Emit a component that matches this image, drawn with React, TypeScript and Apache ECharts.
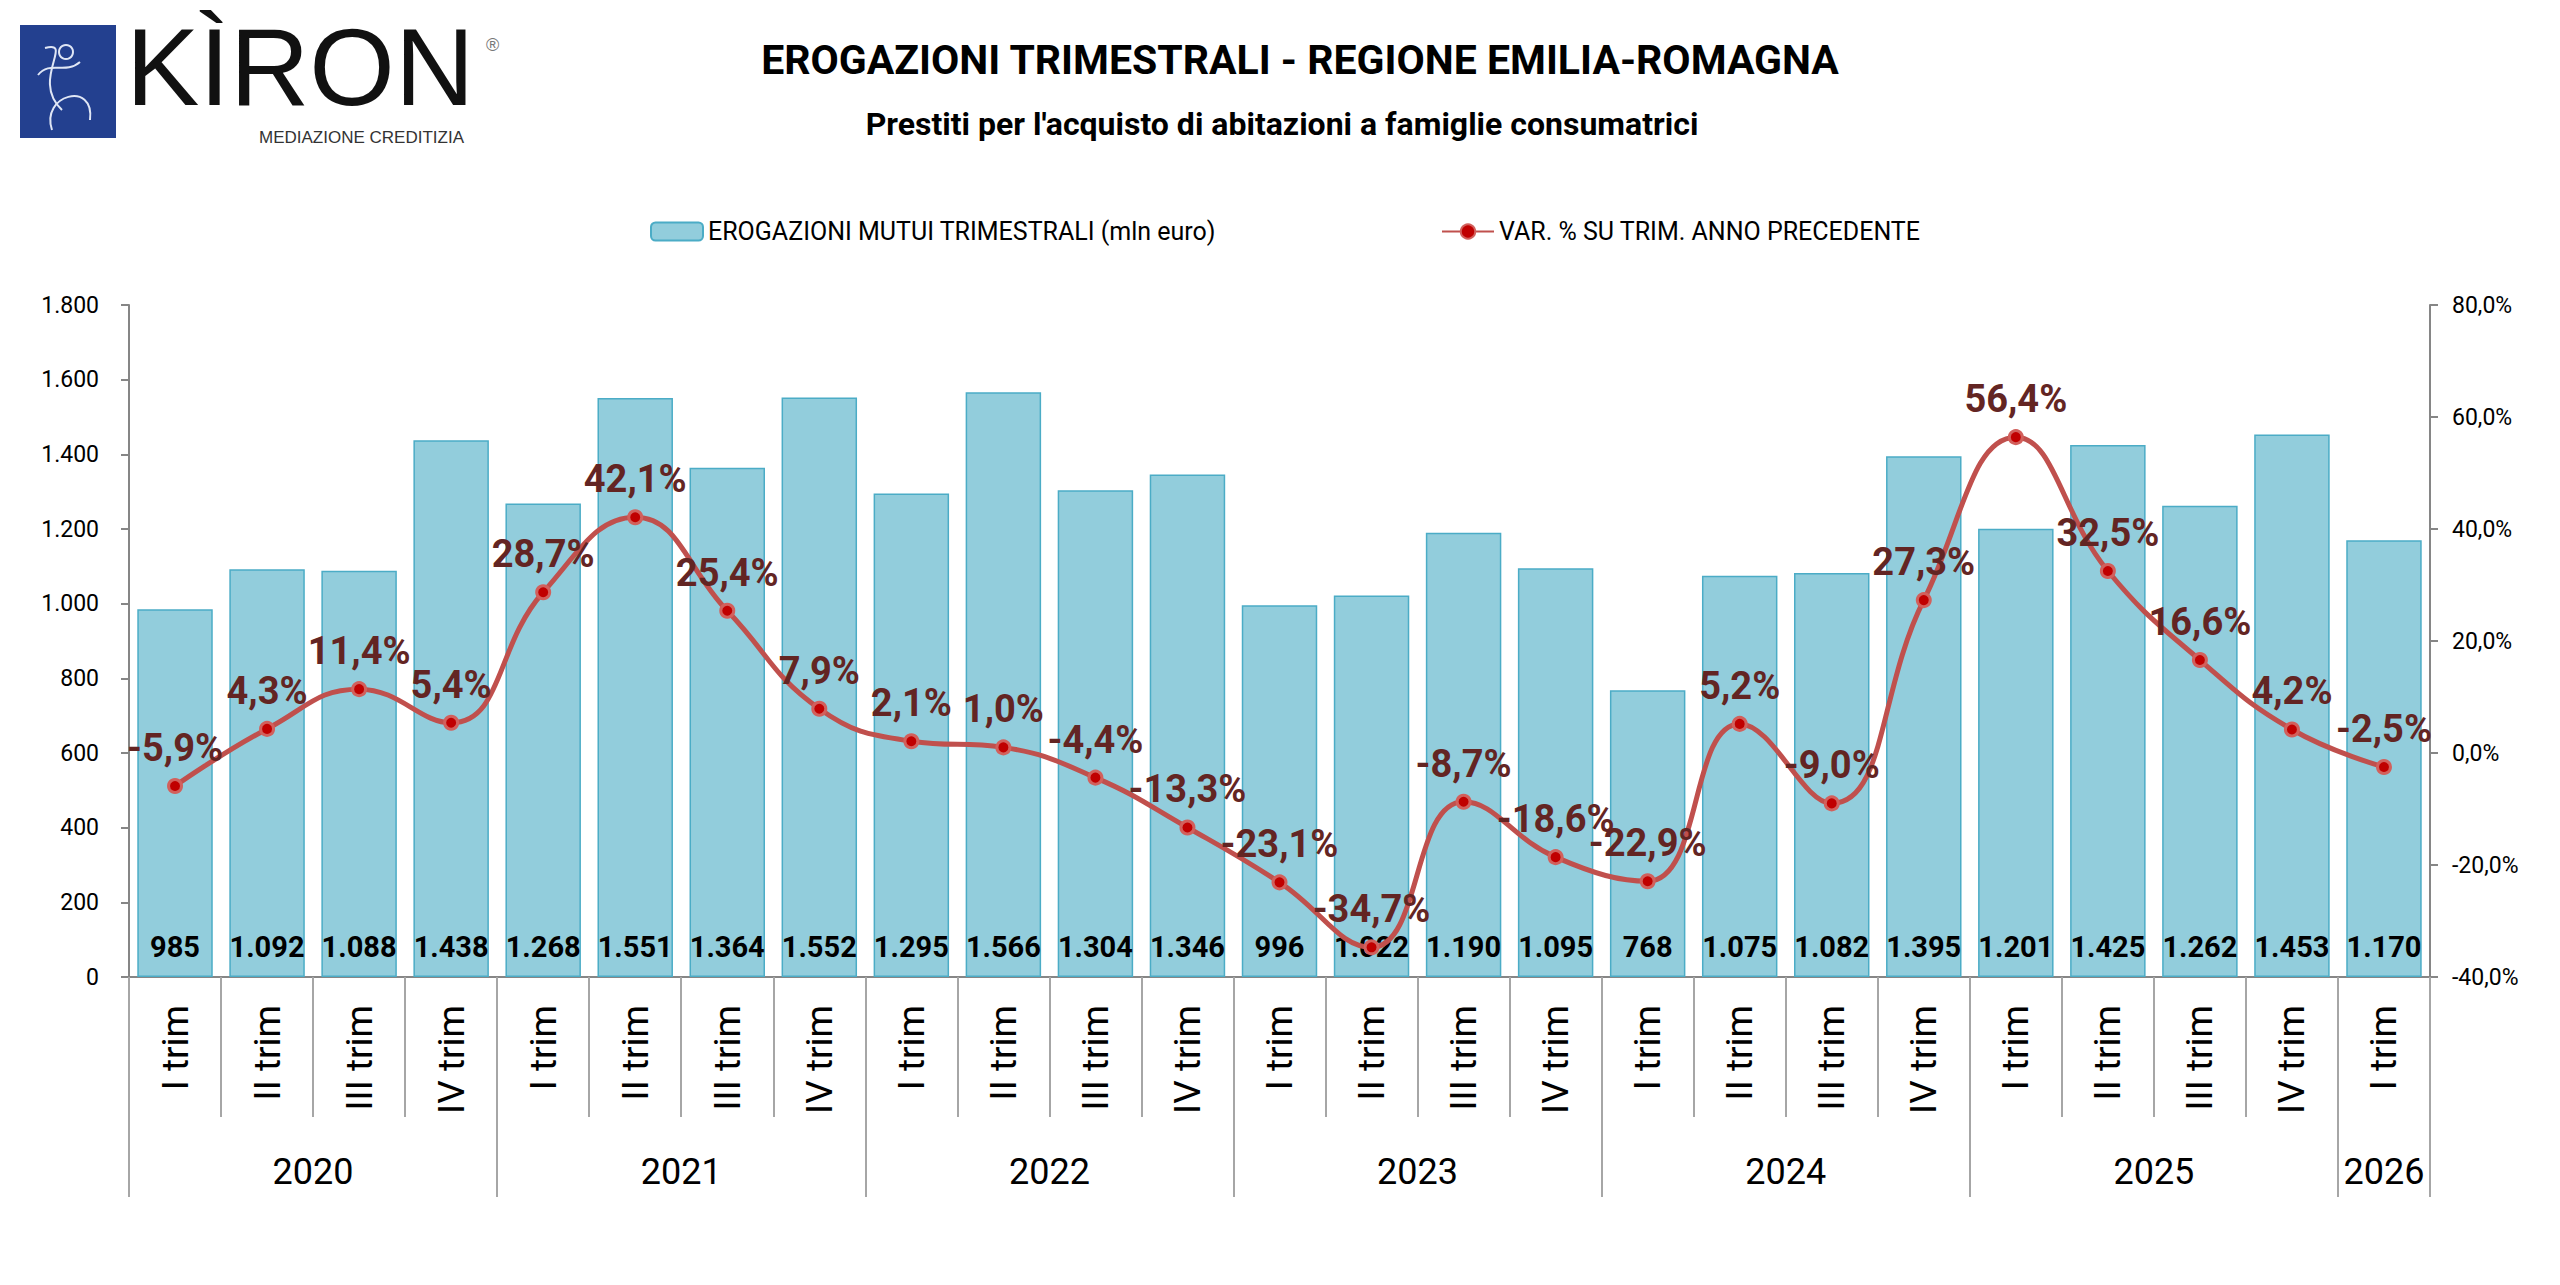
import { useEffect, useRef } from "react";
import * as echarts from "echarts";

const quarterLabels = [
  "I trim", "II trim", "III trim", "IV trim",
  "I trim", "II trim", "III trim", "IV trim",
  "I trim", "II trim", "III trim", "IV trim",
  "I trim", "II trim", "III trim", "IV trim",
  "I trim", "II trim", "III trim", "IV trim",
  "I trim", "II trim", "III trim", "IV trim",
  "I trim",
];
const years = ["2020", "2021", "2022", "2023", "2024", "2025", "2026"];
// category index where each year starts (last one closes the axis)
const yearBounds = [0, 4, 8, 12, 16, 20, 24, 25];

const erogazioni = [
  985, 1092, 1088, 1438, 1268, 1551, 1364, 1552, 1295, 1566, 1304, 1346, 996,
  1022, 1190, 1095, 768, 1075, 1082, 1395, 1201, 1425, 1262, 1453, 1170,
];
const variazioni = [
  -5.9, 4.3, 11.4, 5.4, 28.7, 42.1, 25.4, 7.9, 2.1, 1.0, -4.4, -13.3, -23.1,
  -34.7, -8.7, -18.6, -22.9, 5.2, -9.0, 27.3, 56.4, 32.5, 16.6, 4.2, -2.5,
];

const FONT = "Roboto, 'Noto Sans', sans-serif";
const BAR_NAME = "EROGAZIONI MUTUI TRIMESTRALI (mln euro)";
const LINE_NAME = "VAR. % SU TRIM. ANNO PRECEDENTE";

const thousands = (v: number) => String(Math.round(v)).replace(/\B(?=(\d{3})+(?!\d))/g, ".");
const pct = (v: number) => v.toFixed(1).replace(".", ",") + "%";

const yearCenters = years.map((_, i) => (yearBounds[i] + yearBounds[i + 1]) / 2);

const App = () => {
  const ref = useRef<HTMLDivElement>(null);

  useEffect(() => {
    if (!ref.current) return;
    const chart = echarts.init(ref.current, undefined, { renderer: "svg" });

    const option: echarts.EChartsOption = {
      animation: false,
      backgroundColor: "#ffffff",
      textStyle: { fontFamily: FONT },
      graphic: [
        // logo
        { type: "rect", shape: { x: 20, y: 25, width: 96, height: 113 }, style: { fill: "#23408f" } },
        {
          type: "bezierCurve",
          shape: { x1: 52, y1: 130, x2: 90, y2: 120, cpx1: 40, cpy1: 95, cpx2: 95, cpy2: 80 },
          style: { stroke: "#dfe6f5", lineWidth: 2, fill: "none" },
        },
        {
          type: "bezierCurve",
          shape: { x1: 45, y1: 48, x2: 62, y2: 110, cpx1: 75, cpy1: 40, cpx2: 30, cpy2: 80 },
          style: { stroke: "#dfe6f5", lineWidth: 2, fill: "none" },
        },
        {
          type: "bezierCurve",
          shape: { x1: 38, y1: 75, x2: 80, y2: 62, cpx1: 50, cpy1: 60, cpx2: 65, cpy2: 75 },
          style: { stroke: "#dfe6f5", lineWidth: 2, fill: "none" },
        },
        { type: "circle", shape: { cx: 66, cy: 52, r: 7 }, style: { stroke: "#dfe6f5", lineWidth: 2, fill: "none" } },
        {
          type: "text",
          x: 126,
          y: 66,
          style: {
            text: "KÌRON",
            font: "110px 'Liberation Sans', sans-serif",
            lineHeight: 86,
            fill: "#111111",
            verticalAlign: "middle",
          },
        },
        {
          type: "text",
          x: 464,
          y: 137,
          style: {
            text: "MEDIAZIONE CREDITIZIA",
            font: "17px 'Liberation Sans Narrow', 'Liberation Sans', sans-serif",
            fill: "#333333",
            align: "right",
            verticalAlign: "middle",
          },
        },
        {
          type: "text",
          x: 486,
          y: 36,
          style: { text: "®", font: "18px 'Liberation Sans', sans-serif", fill: "#777777" },
        },
        // titles
        {
          type: "text",
          x: 1300,
          y: 60,
          style: {
            text: "EROGAZIONI TRIMESTRALI - REGIONE EMILIA-ROMAGNA",
            font: `bold 41px ${FONT}`,
            fill: "#000000",
            align: "center",
            verticalAlign: "middle",
          },
        },
        {
          type: "text",
          x: 1282,
          y: 124,
          style: {
            text: "Prestiti per l'acquisto di abitazioni a famiglie consumatrici",
            font: `bold 32px ${FONT}`,
            fill: "#000000",
            align: "center",
            verticalAlign: "middle",
          },
        },
      ],
      legend: [
        {
          data: [BAR_NAME],
          left: 645,
          top: 214,
          itemWidth: 52,
          itemHeight: 18,
          itemGap: 4,
          textStyle: { fontSize: 25, color: "#000000", fontFamily: FONT },
        },
        {
          data: [LINE_NAME],
          left: 1436,
          top: 214,
          itemWidth: 52,
          itemHeight: 18,
          textStyle: { fontSize: 25, color: "#000000", fontFamily: FONT },
        },
      ],
      grid: { left: 129, right: 130, top: 305, bottom: 308, containLabel: false },
      xAxis: [
        {
          type: "category",
          data: quarterLabels,
          position: "bottom",
          axisLine: { onZero: false, lineStyle: { color: "#868686", width: 2 } },
          axisTick: { show: true, alignWithLabel: false, length: 140, lineStyle: { color: "#a6a6a6", width: 2 } },
          axisLabel: { interval: 0, rotate: 90, margin: 28, fontSize: 37, color: "#000000", fontFamily: FONT },
        },
        {
          type: "value",
          min: 0,
          max: 25,
          position: "bottom",
          axisLine: { show: false, onZero: false },
          splitLine: { show: false },
          axisTick: {
            show: true,
            inside: false,
            customValues: yearBounds,
            length: 220,
            lineStyle: { color: "#a6a6a6", width: 2 },
          },
          axisLabel: {
            customValues: yearCenters,
            margin: 177,
            fontSize: 36,
            color: "#000000",
            fontFamily: FONT,
            formatter: (v: number) => {
              const i = yearCenters.indexOf(v);
              return i >= 0 ? years[i] : "";
            },
          },
        },
      ],
      yAxis: [
        {
          type: "value",
          min: 0,
          max: 1800,
          interval: 200,
          axisLine: { show: true, lineStyle: { color: "#868686", width: 2 } },
          axisTick: { show: true, length: 8, lineStyle: { color: "#868686", width: 2 } },
          splitLine: { show: false },
          axisLabel: { formatter: (v: number) => thousands(v), fontSize: 23, color: "#000000", margin: 30 },
        },
        {
          type: "value",
          min: -40,
          max: 80,
          interval: 20,
          position: "right",
          axisLine: { show: true, lineStyle: { color: "#868686", width: 2 } },
          axisTick: { show: true, length: 8, lineStyle: { color: "#868686", width: 2 } },
          splitLine: { show: false },
          axisLabel: { formatter: (v: number) => pct(v), fontSize: 23, color: "#000000", margin: 22 },
        },
      ],
      series: [
        {
          name: BAR_NAME,
          type: "bar",
          xAxisIndex: 0,
          yAxisIndex: 0,
          data: erogazioni,
          barCategoryGap: "18%",
          itemStyle: { color: "#92cddc", borderColor: "#4bacc6", borderWidth: 1.5 },
          label: {
            show: true,
            position: "insideBottom",
            distance: 16,
            formatter: (p: any) => thousands(p.value),
            fontSize: 29,
            fontWeight: "bold",
            color: "#000000",
            fontFamily: FONT,
          },
          z: 2,
        },
        {
          name: LINE_NAME,
          type: "line",
          xAxisIndex: 0,
          yAxisIndex: 1,
          data: variazioni,
          smooth: 0.45,
          symbol: "circle",
          symbolSize: 13,
          lineStyle: { color: "#c0504d", width: 5 },
          itemStyle: { color: "#c00000", borderColor: "#d2605c", borderWidth: 3 },
          label: {
            show: true,
            position: "top",
            distance: 11,
            formatter: (p: any) => pct(p.value),
            fontSize: 38,
            fontWeight: "bold",
            color: "#632523",
            fontFamily: FONT,
          },
          z: 5,
        },
      ],
    };

    chart.setOption(option);
    return () => chart.dispose();
  }, []);

  return <div ref={ref} style={{ position: "fixed", left: 0, top: 0, width: 2560, height: 1285 }} />;
};

export default App;
